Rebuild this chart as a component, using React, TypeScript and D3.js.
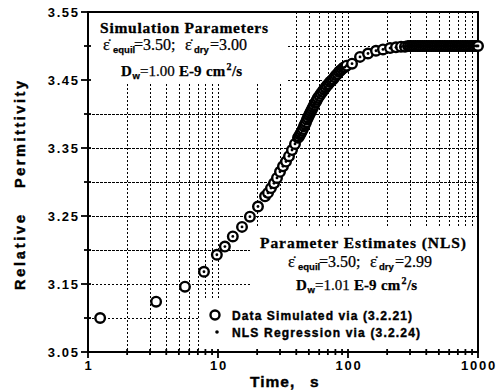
import React from "react";
import * as d3 from "d3";

const W = 497;
const H = 391;

// Axis ticks
const timeTickValues = [1, 10, 100, 1000];
const timeTickLabels = ["1", "10", "100", "1000"];
const permTickValues = [3.05, 3.15, 3.25, 3.35, 3.45, 3.55];
const permTickLabels = ["3.05", "3.15", "3.25", "3.35", "3.45", "3.55"];

// Simulated relative permittivity vs. time (s)
const simTimes = [
  1.24, 3.34, 5.57, 7.8,
  9.8, 11.3, 13.0, 15.3, 17.6, 20.3, 23.0,
  24.25, 25.56, 26.97, 28.43, 29.99, 31.62, 33.36, 35.17, 37.09, 39.11, 41.25,
  42.0, 42.74, 43.5, 44.28, 45.07, 45.87, 46.69, 47.52, 48.37, 49.23,
  50.12, 51.01, 51.92, 52.85, 53.79, 54.75, 55.73, 56.73, 57.74, 58.77,
  60.37, 61.99, 63.66, 65.37, 67.13, 68.94, 70.8, 72.7, 74.66, 76.67,
  78.74, 80.86, 83.03, 85.27, 87.56, 89.92, 92.34, 94.83, 97.38,
  107.4, 123.7, 142.5, 164.2, 185.8, 210.5, 233.9, 255.7, 274.5, 289.4,
  300, 310, 320, 330, 341, 352, 363, 375, 387, 400,
  413, 426, 440, 454, 469, 484, 500, 516, 532, 550,
  567, 586, 605, 624, 644, 665, 687, 709, 732, 756,
  780, 805, 831, 858, 886, 915, 944, 975, 1000,
];
const simPermittivity = [
  3.100, 3.124, 3.146, 3.168,
  3.193, 3.205, 3.220, 3.234, 3.249, 3.264, 3.279,
  3.284, 3.291, 3.298, 3.306, 3.315, 3.323, 3.330, 3.338, 3.347, 3.356, 3.365,
  3.367, 3.370, 3.372, 3.375, 3.378, 3.382, 3.385, 3.388, 3.392, 3.395,
  3.398, 3.401, 3.404, 3.407, 3.410, 3.413, 3.416, 3.418, 3.421, 3.424,
  3.427, 3.430, 3.433, 3.436, 3.439, 3.442, 3.444, 3.447, 3.449, 3.451,
  3.454, 3.457, 3.459, 3.462, 3.464, 3.466, 3.468, 3.469, 3.471,
  3.474, 3.484, 3.489, 3.493, 3.495, 3.497, 3.498, 3.499, 3.499, 3.500,
  3.500, 3.500, 3.500, 3.500, 3.500, 3.500, 3.500, 3.500, 3.500, 3.500,
  3.500, 3.500, 3.500, 3.500, 3.500, 3.500, 3.500, 3.500, 3.500, 3.500,
  3.500, 3.500, 3.500, 3.500, 3.500, 3.500, 3.500, 3.500, 3.500, 3.500,
  3.500, 3.500, 3.500, 3.500, 3.500, 3.500, 3.500, 3.500, 3.500,
];
// NLS regression fit is shown from this time onward
const nlsStartTime = 7.8;

// Parameter annotations: [eps'_equil, eps'_dry, D_w]
const simulationParams = ["3.50", "3.00", "1.00"];
const nlsParams = ["3.50", "2.99", "1.01"];

const PLOT = { left: 88, right: 478, top: 12, bottom: 352 };

const SERIF = "'Liberation Serif','DejaVu Serif','Times New Roman',serif";
const SANS = "'Liberation Sans',Arial,Helvetica,sans-serif";

// epsilon with a mark above (relative permittivity, real part)
const EPS = "\u03B5\u0307";

function EpsilonLine({ x, y, equil, dry }: { x: number; y: number; equil: string; dry: string }) {
  return (
    <text fill="#000" fontFamily={SERIF} fontSize={16} stroke="#000" strokeWidth={0.25}>
      <tspan x={x} y={y}>{EPS}</tspan>
      <tspan x={x + 10} y={y + 3} fontSize={9.5} fontFamily={SANS} fontWeight="bold">equil</tspan>
      <tspan x={x + 31} y={y}>={equil};</tspan>
      <tspan x={x + 82} y={y}>{EPS}</tspan>
      <tspan x={x + 91} y={y + 3} fontSize={9.5} fontFamily={SANS} fontWeight="bold">dry</tspan>
      <tspan x={x + 107} y={y}>={dry}</tspan>
    </text>
  );
}

function DiffusionLine({ x, y, dw }: { x: number; y: number; dw: string }) {
  return (
    <text fill="#000" fontFamily={SERIF} fontSize={15} stroke="#000" strokeWidth={0.25}>
      <tspan x={x} y={y} fontWeight="bold">D</tspan>
      <tspan x={x + 11.5} y={y + 3} fontSize={9.5} fontFamily={SANS} fontWeight="bold">w</tspan>
      <tspan x={x + 19} y={y}>={dw}</tspan>
      <tspan x={x + 58} y={y} fontWeight="bold">E-9</tspan>
      <tspan x={x + 85} y={y} fontWeight="bold">cm</tspan>
      <tspan x={x + 105.5} y={y - 6} fontSize={10} fontWeight="bold">2</tspan>
      <tspan x={x + 111} y={y} fontWeight="bold">/s</tspan>
    </text>
  );
}

export default function App() {
  const x = d3.scaleLog().domain([1, 1000]).range([PLOT.left, PLOT.right]);
  const y = d3.scaleLinear().domain([3.05, 3.55]).range([PLOT.bottom, PLOT.top]);

  const xTicks = x.ticks();
  const yTicks = y.ticks(10);
  const isMajorX = (t: number) => timeTickValues.some((v) => Math.abs(v - t) < 1e-9);
  const isMajorY = (t: number) => permTickValues.some((v) => Math.abs(v - t) < 1e-6);

  const vGrid = xTicks.filter((t) => t > 1 && t < 1000);
  const hGrid = yTicks.filter((t) => t > 3.06 && t < 3.54);

  const points = simTimes.map((t, i) => ({ t, v: simPermittivity[i] }));
  const nlsPoints = points.filter((p) => p.t >= nlsStartTime);

  return (
    <svg
      width={W}
      height={H}
      viewBox={`0 0 ${W} ${H}`}
      style={{ position: "absolute", left: 0, top: 0, display: "block", background: "#fff" }}
    >
      <rect x={0} y={0} width={W} height={H} fill="#fff" />

      {/* grid */}
      <g stroke="#000" fill="none" shapeRendering="crispEdges">
        {vGrid.map((t, i) => (
          <line
            key={`v${i}`}
            x1={Math.round(x(t)) + 0.5}
            x2={Math.round(x(t)) + 0.5}
            y1={PLOT.top}
            y2={PLOT.bottom}
            strokeWidth={1.5}
            strokeDasharray="2 2"
          />
        ))}
        {hGrid.map((v, i) => {
          const dense = v > 3.17 && v < 3.43;
          return (
            <line
              key={`h${i}`}
              x1={PLOT.left}
              x2={PLOT.right}
              y1={Math.round(y(v)) + 0.5}
              y2={Math.round(y(v)) + 0.5}
              strokeWidth={1.5}
              strokeDasharray={dense ? "3 1" : "2 2"}
            />
          );
        })}
      </g>

      {/* annotation backgrounds */}
      <g fill="#fff">
        <rect x={89} y={13} width={197} height={70} />
        <rect x={250} y={228} width={227} height={123} />
        <rect x={200} y={300} width={277} height={51} />
      </g>

      {/* frame and ticks */}
      <rect
        x={PLOT.left}
        y={PLOT.top}
        width={PLOT.right - PLOT.left}
        height={PLOT.bottom - PLOT.top}
        fill="none"
        stroke="#000"
        strokeWidth={2}
      />
      <g stroke="#000" strokeWidth={1.8}>
        {yTicks.map((v, i) => (
          <line
            key={`yt${i}`}
            x1={isMajorY(v) ? PLOT.left - 7 : PLOT.left - 4}
            x2={PLOT.left + 3}
            y1={y(v)}
            y2={y(v)}
          />
        ))}
        {xTicks.map((t, i) => (
          <line
            key={`xt${i}`}
            x1={x(t)}
            x2={x(t)}
            y1={PLOT.bottom - 3}
            y2={isMajorX(t) ? PLOT.bottom + 6 : PLOT.bottom + 3}
          />
        ))}
      </g>

      {/* tick labels */}
      <g fontFamily={SANS} fontSize={13} fontWeight="bold" fill="#000">
        {permTickValues.map((v, i) => (
          <text key={`yl${i}`} x={79.5} y={y(v) + 4.5} textAnchor="end" letterSpacing={1.6}>
            {permTickLabels[i]}
          </text>
        ))}
        {timeTickValues.map((t, i) => (
          <text key={`xl${i}`} x={x(t) + 1} y={370} textAnchor="middle" letterSpacing={1.8}>
            {timeTickLabels[i]}
          </text>
        ))}
      </g>

      {/* axis titles */}
      <text x={250} y={387} fontFamily={SANS} fontSize={15.5} fontWeight="bold" letterSpacing={1} stroke="#000" strokeWidth={0.4}>
        Time,
        <tspan x={310}>s</tspan>
      </text>
      <g fontFamily={SANS} fontSize={14.5} fontWeight="bold" stroke="#000" strokeWidth={0.4}>
        <text transform="translate(25,252.5) rotate(-90)" textAnchor="middle" textLength={75}>
          Relative
        </text>
        <text transform="translate(25,134.5) rotate(-90)" textAnchor="middle" textLength={107}>
          Permittivity
        </text>
      </g>

      {/* simulated data */}
      <g fill="#fff" stroke="#000" strokeWidth={2.4}>
        {points.map((p, i) => (
          <circle key={`c${i}`} cx={x(p.t)} cy={y(p.v)} r={4.8} />
        ))}
      </g>
      {/* NLS regression */}
      <g fill="#000">
        {nlsPoints.map((p, i) => (
          <circle key={`d${i}`} cx={x(p.t)} cy={y(p.v)} r={1.4} />
        ))}
      </g>

      {/* simulation parameters */}
      <text
        x={100}
        y={33}
        fontFamily={SERIF}
        fontSize={15.5}
        fontWeight="bold"
        textLength={168}
        stroke="#000"
        strokeWidth={0.3}
      >
        Simulation Parameters
      </text>
      <EpsilonLine x={103} y={50} equil={simulationParams[0]} dry={simulationParams[1]} />
      <DiffusionLine x={121} y={76} dw={simulationParams[2]} />

      {/* parameter estimates */}
      <text
        x={260}
        y={248}
        fontFamily={SERIF}
        fontSize={15.5}
        fontWeight="bold"
        textLength={206}
        stroke="#000"
        strokeWidth={0.3}
      >
        Parameter Estimates (NLS)
      </text>
      <EpsilonLine x={288} y={267} equil={nlsParams[0]} dry={nlsParams[1]} />
      <DiffusionLine x={296} y={290} dw={nlsParams[2]} />

      {/* legend */}
      <circle cx={215} cy={315} r={4.5} fill="#fff" stroke="#000" strokeWidth={2.4} />
      <text x={232} y={320} fontFamily={SANS} fontSize={12} fontWeight="bold" textLength={180} stroke="#000" strokeWidth={0.4}>
        Data Simulated via (3.2.21)
      </text>
      <circle cx={217} cy={332} r={1.8} fill="#000" />
      <text x={232} y={337} fontFamily={SANS} fontSize={12} fontWeight="bold" textLength={188} stroke="#000" strokeWidth={0.4}>
        NLS Regression via (3.2.24)
      </text>
    </svg>
  );
}
